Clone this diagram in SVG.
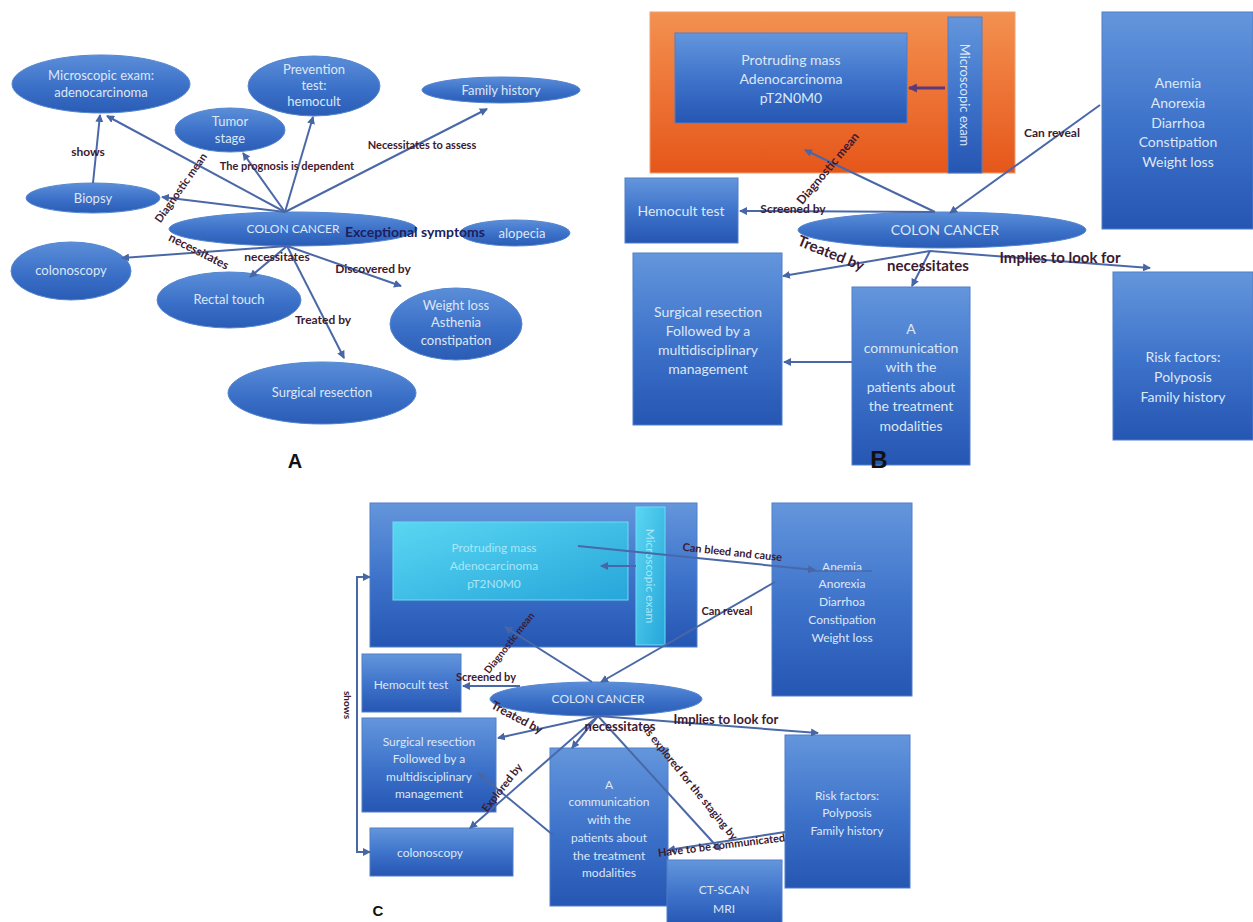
<svg xmlns="http://www.w3.org/2000/svg" width="1253" height="922" viewBox="0 0 1253 922">
<defs>
<linearGradient id="gb" x1="0" y1="0" x2="0" y2="1"><stop offset="0" stop-color="#6496dc"/><stop offset="0.5" stop-color="#3f74cb"/><stop offset="1" stop-color="#2556b3"/></linearGradient>
<linearGradient id="ge" x1="0" y1="0" x2="0" y2="1"><stop offset="0" stop-color="#5b8ed8"/><stop offset="0.55" stop-color="#3b70c8"/><stop offset="1" stop-color="#2a5cb5"/></linearGradient>
<linearGradient id="go" x1="0" y1="0" x2="0" y2="1"><stop offset="0" stop-color="#f39150"/><stop offset="1" stop-color="#e6561a"/></linearGradient>
<linearGradient id="gc" x1="0" y1="0" x2="1" y2="1"><stop offset="0" stop-color="#5ad6f2"/><stop offset="1" stop-color="#26a6da"/></linearGradient>
<marker id="ar" viewBox="0 0 8 8" refX="7" refY="4" markerWidth="8" markerHeight="8" markerUnits="userSpaceOnUse" orient="auto"><path d="M0,0 L8,4 L0,8 z" fill="#4866a6"/></marker>
<marker id="ad" viewBox="0 0 8 8" refX="7" refY="4" markerWidth="9" markerHeight="9" markerUnits="userSpaceOnUse" orient="auto"><path d="M0,0 L8,4 L0,8 z" fill="#5a3a78"/></marker>
</defs>
<style>
.n{fill:url(#gb);stroke:#4f7fc8;stroke-width:1}
.e{fill:url(#ge);stroke:#5486d0;stroke-width:1}
.t{font-family:Lato,"Open Sans",sans-serif;fill:#dde7f6;text-anchor:middle;font-size:13px}
.ts{font-size:12px}
.tb{font-size:14px}
.cy{fill:#a9e6f6}
.l{font-family:Lato,"Open Sans",sans-serif;fill:#3d1a2f;font-weight:bold;text-anchor:middle;font-size:11px}
.c{fill:none;stroke:#4a68a8;stroke-width:2;marker-end:url(#ar)}
.p{font-family:"Liberation Sans",Arial,sans-serif;font-weight:bold;fill:#111;text-anchor:middle}
</style>
<rect width="1253" height="922" fill="#ffffff"/>

<!-- Panel A -->
<g id="a-micro"><ellipse class="e" cx="101" cy="84" rx="89" ry="29"/><text class="t" x="101" y="80">Microscopic exam:</text><text class="t" x="101" y="97">adenocarcinoma</text></g>
<g id="a-tumor"><ellipse class="e" cx="230" cy="130" rx="55" ry="22"/><text class="t" x="230" y="126">Tumor</text><text class="t" x="230" y="143">stage</text></g>
<g id="a-prev"><ellipse class="e" cx="314" cy="86" rx="66" ry="30"/><text class="t" x="314" y="74">Prevention</text><text class="t" x="314" y="90">test:</text><text class="t" x="314" y="106">hemocult</text></g>
<g id="a-family"><ellipse class="e" cx="501" cy="90" rx="79" ry="13"/><text class="t" x="501" y="95">Family history</text></g>
<g id="a-biopsy"><ellipse class="e" cx="93" cy="198" rx="67" ry="15"/><text class="t" x="93" y="203">Biopsy</text></g>
<g id="a-colon"><ellipse class="e" cx="293" cy="229" rx="124" ry="17"/><text class="t ts" x="293" y="233">COLON CANCER</text></g>
<g id="a-alopecia"><ellipse class="e" cx="515" cy="233" rx="55" ry="13"/><text class="t" x="522" y="238">alopecia</text></g>
<g id="a-colono"><ellipse class="e" cx="71" cy="271" rx="60" ry="29"/><text class="t" x="71" y="275">colonoscopy</text></g>
<g id="a-rectal"><ellipse class="e" cx="229" cy="300" rx="72" ry="28"/><text class="t" x="229" y="304">Rectal touch</text></g>
<g id="a-weight"><ellipse class="e" cx="456" cy="324" rx="66" ry="36"/><text class="t" x="456" y="310">Weight loss</text><text class="t" x="456" y="327">Asthenia</text><text class="t" x="456" y="345">constipation</text></g>
<g id="a-surg"><ellipse class="e" cx="322" cy="393" rx="94" ry="31"/><text class="t" x="322" y="397">Surgical resection</text></g>

<!-- Panel B -->
<g id="b-orange"><rect x="650" y="12" width="365" height="161" fill="url(#go)" stroke="#f0a070" stroke-width="1"/></g>
<g id="b-protr"><rect class="n" x="675" y="33" width="232" height="90"/><text class="t tb" x="791" y="65">Protruding mass</text><text class="t tb" x="791" y="84">Adenocarcinoma</text><text class="t tb" x="791" y="103">pT2N0M0</text></g>
<g id="b-microex"><rect class="n" x="948" y="17" width="34" height="156"/><text class="t" transform="translate(960,95) rotate(90)" x="0" y="0">Microscopic exam</text></g>
<g id="b-anemia"><rect class="n" x="1102" y="12" width="151" height="217"/><text class="t tb" x="1178" y="88">Anemia</text><text class="t tb" x="1178" y="108">Anorexia</text><text class="t tb" x="1178" y="128">Diarrhoa</text><text class="t tb" x="1178" y="147">Constipation</text><text class="t tb" x="1178" y="167">Weight loss</text></g>
<g id="b-hemo"><rect class="n" x="625" y="178" width="113" height="65"/><text class="t tb" x="681" y="216">Hemocult test</text></g>
<g id="b-colon"><ellipse class="e" cx="942" cy="230" rx="144" ry="18"/><text class="t tb" x="945" y="235">COLON CANCER</text></g>
<g id="b-surg"><rect class="n" x="633" y="253" width="149" height="172"/><text class="t tb" x="708" y="317">Surgical resection</text><text class="t tb" x="708" y="336">Followed by a</text><text class="t tb" x="708" y="355">multidisciplinary</text><text class="t tb" x="708" y="374">management</text></g>
<g id="b-comm"><rect class="n" x="852" y="287" width="118" height="178"/><text class="t tb" x="911" y="334">A</text><text class="t tb" x="911" y="353">communication</text><text class="t tb" x="911" y="372">with the</text><text class="t tb" x="911" y="392">patients about</text><text class="t tb" x="911" y="411">the treatment</text><text class="t tb" x="911" y="431">modalities</text></g>
<g id="b-risk"><rect class="n" x="1113" y="272" width="140" height="168"/><text class="t tb" x="1183" y="362">Risk factors:</text><text class="t tb" x="1183" y="382">Polyposis</text><text class="t tb" x="1183" y="402">Family history</text></g>

<!-- Panel C -->
<g id="c-big"><rect class="n" x="370" y="503" width="327" height="144"/></g>
<g id="c-protr"><rect x="393" y="522" width="235" height="78" fill="url(#gc)" stroke="#6fdaf3" stroke-width="1"/><text class="t ts cy" x="494" y="552">Protruding mass</text><text class="t ts cy" x="494" y="570">Adenocarcinoma</text><text class="t ts cy" x="494" y="588">pT2N0M0</text></g>
<g id="c-microex"><rect x="636" y="507" width="29" height="138" fill="url(#gc)" stroke="#6fdaf3" stroke-width="1"/><text class="t ts cy" transform="translate(646,576) rotate(90)" x="0" y="0">Microscopic exam</text></g>
<g id="c-anemia"><rect class="n" x="772" y="503" width="140" height="193"/><text class="t ts" x="842" y="571">Anemia</text><text class="t ts" x="842" y="588">Anorexia</text><text class="t ts" x="842" y="606">Diarrhoa</text><text class="t ts" x="842" y="624">Constipation</text><text class="t ts" x="842" y="642">Weight loss</text></g>
<g id="c-hemo"><rect class="n" x="362" y="654" width="99" height="58"/><text class="t ts" x="411" y="689">Hemocult test</text></g>
<g id="c-colon"><ellipse class="e" cx="596" cy="699" rx="106" ry="17"/><text class="t ts" x="598" y="703">COLON CANCER</text></g>
<g id="c-surg"><rect class="n" x="362" y="718" width="134" height="94"/><text class="t ts" x="429" y="746">Surgical resection</text><text class="t ts" x="429" y="763">Followed by a</text><text class="t ts" x="429" y="781">multidisciplinary</text><text class="t ts" x="429" y="798">management</text></g>
<g id="c-comm"><rect class="n" x="550" y="748" width="118" height="158"/><text class="t ts" x="609" y="789">A</text><text class="t ts" x="609" y="806">communication</text><text class="t ts" x="609" y="824">with the</text><text class="t ts" x="609" y="842">patients about</text><text class="t ts" x="609" y="860">the treatment</text><text class="t ts" x="609" y="877">modalities</text></g>
<g id="c-risk"><rect class="n" x="785" y="735" width="125" height="153"/><text class="t ts" x="847" y="800">Risk factors:</text><text class="t ts" x="847" y="817">Polyposis</text><text class="t ts" x="847" y="835">Family history</text></g>
<g id="c-colono"><rect class="n" x="370" y="828" width="143" height="48"/><text class="t ts" x="430" y="857">colonoscopy</text></g>
<g id="c-ct"><rect class="n" x="667" y="860" width="115" height="66"/><text class="t ts" x="724" y="894">CT-SCAN</text><text class="t ts" x="724" y="913">MRI</text></g>

<!-- Connectors -->
<g id="connectors">
<path class="c" d="M285,212 L107,116"/>
<path class="c" d="M285,212 L243,153"/>
<path class="c" d="M285,212 L313,117"/>
<path class="c" d="M285,212 L487,109"/>
<path class="c" d="M285,212 L162,197"/>
<path class="c" d="M93,183 L100,115"/>
<path class="c" d="M287,246 L122,258"/>
<path class="c" d="M287,246 L250,277"/>
<path class="c" d="M287,246 L344,358"/>
<path class="c" d="M287,246 L401,286"/>

<path d="M945,88 L909,88" fill="none" stroke="#5a3a78" stroke-width="3" marker-end="url(#ad)"/>
<path class="c" d="M935,212 L740,211"/>
<path class="c" d="M935,212 L805,150"/>
<path class="c" d="M1100,105 L950,213"/>
<path class="c" d="M930,251 L783,276"/>
<path class="c" d="M930,251 L912,286"/>
<path class="c" d="M930,251 L1150,268"/>
<path class="c" d="M852,362 L784,362"/>

<path class="c" d="M578,546 L815,570"/>
<path d="M812,571 L872,571" fill="none" stroke="#4a68a8" stroke-width="1.5"/>
<path class="c" d="M636,566 L601,566"/>
<path class="c" d="M775,582 L601,682"/>
<path class="c" d="M592,682 L505,627"/>
<path class="c" d="M520,686 L463,686"/>
<path class="c" d="M357,715 L357,577 L370,577"/>
<path class="c" d="M357,715 L357,852 L370,852"/>
<path class="c" d="M598,716 L498,738"/>
<path class="c" d="M598,716 L572,748"/>
<path class="c" d="M598,716 L818,733"/>
<path class="c" d="M598,716 L720,850"/>
<path class="c" d="M598,716 L470,828"/>
<path class="c" d="M553,835 L478,773"/>
<path class="c" d="M785,832 L668,850"/>
</g>

<!-- Labels -->
<g id="labels">
<text class="l" x="88" y="156" style="font-size:12px">shows</text>
<text class="l" transform="translate(184,190) rotate(-55)">Diagnostic mean</text>
<text class="l" x="287" y="170">The prognosis is dependent</text>
<text class="l" x="422" y="149">Necessitates to assess</text>
<text class="l" x="415" y="237" style="font-size:14px;fill:#1c2160">Exceptional symptoms</text>
<text class="l" transform="translate(197,255) rotate(27)" style="font-size:12px">necessitates</text>
<text class="l" x="277" y="261" style="font-size:12px">necessitates</text>
<text class="l" x="373" y="273" style="font-size:12px">Discovered by</text>
<text class="l" x="323" y="324" style="font-size:12px">Treated by</text>

<text class="l" x="793" y="213" style="font-size:12px">Screened by</text>
<text class="l" transform="translate(831,171) rotate(-50)" style="font-size:12px">Diagnostic mean</text>
<text class="l" x="1052" y="137" style="font-size:12px">Can reveal</text>
<text class="l" transform="translate(829,258) rotate(22)" style="font-size:15px">Treated by</text>
<text class="l" x="928" y="271" style="font-size:15px">necessitates</text>
<text class="l" x="1060" y="263" style="font-size:15px">Implies to look for</text>

<text class="l" transform="translate(732,556) rotate(6)">Can bleed and cause</text>
<text class="l" x="727" y="615">Can reveal</text>
<text class="l" transform="translate(512,645) rotate(-52)" style="font-size:10px">Diagnostic mean</text>
<text class="l" x="486" y="681">Screened by</text>
<text class="l" transform="translate(344,705) rotate(90)" style="font-size:10px">shows</text>
<text class="l" transform="translate(515,721) rotate(28)" style="font-size:12px">Treated by</text>
<text class="l" x="620" y="731" style="font-size:13px">necessitates</text>
<text class="l" x="726" y="724" style="font-size:13px">Implies to look for</text>
<text class="l" transform="translate(688,786) rotate(51)">Is explored for the staging by</text>
<text class="l" transform="translate(505,790) rotate(-52)">Explored by</text>
<text class="l" transform="translate(722,849) rotate(-7)">Have to be communicated</text>
</g>

<g id="panel-letters">
<text class="p" x="295" y="468" style="font-size:20px">A</text>
<text class="p" x="879" y="468" style="font-size:24px">B</text>
<text class="p" x="378" y="916" style="font-size:15px">C</text>
</g>
</svg>
